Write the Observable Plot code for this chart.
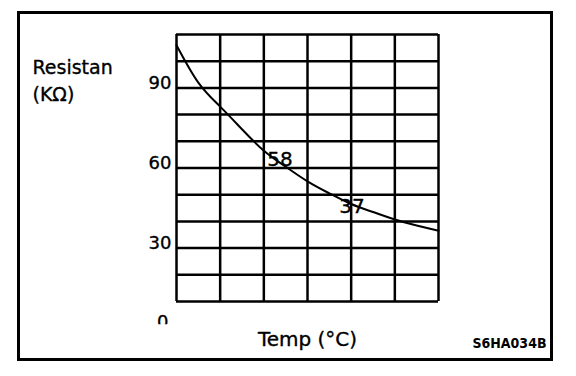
<!DOCTYPE html>
<html>
<head>
<meta charset="utf-8">
<script src="https://cdn.jsdelivr.net/npm/d3@7"></script>
<script src="https://cdn.jsdelivr.net/npm/@observablehq/plot@0.6"></script>
<style>
  html, body { margin: 0; padding: 0; background: #fff; }
  #wrap { position: relative; width: 576px; height: 376px; overflow: hidden; }
  #border { position: absolute; left: 17px; top: 11px; width: 530px; height: 344px; border: 3px solid #000; pointer-events: none; }
</style>
</head>
<body>
<div id="wrap"><div id="border"></div></div>
<script>
// ---- data ----
const tempColumns = [0, 1, 2, 3, 4, 5, 6];                 // vertical grid lines (temperature columns)
const resistanceGrid = [10, 20, 30, 40, 50, 60, 70, 80, 90, 100, 110]; // horizontal grid lines (kΩ)
const yTickLabels = [30, 60, 90];
const cutTickLabels = [0];                                  // partly hidden in the original
const curveTemp = [0, 0.5, 1, 1.5, 2, 2.5, 3, 3.5, 4, 4.5, 5, 5.5, 6];
const curveResistance = [106, 92, 83, 74.5, 66.5, 60.5, 55, 50.5, 46.5, 43.5, 40.7, 38.5, 36.5];
const pointLabels = ["58", "37"];
const pointLabelTemp = [2.37, 4.02];
const pointLabelResistance = [63, 45.5];
const yTitle = "Resistan\n(KΩ)";
const xTitle = "Temp (°C)";
const figureCode = "S6HA034B";

const curve = curveTemp.map((t, i) => ({t, r: curveResistance[i]}));
const labels = pointLabels.map((s, i) => ({s, t: pointLabelTemp[i], r: pointLabelResistance[i]}));

const font = "DejaVu Sans, Liberation Sans, sans-serif";
const ink = {fill: "#000", stroke: "#000", strokeWidth: 0.35};

const chart = Plot.plot({
  width: 576,
  height: 376,
  marginLeft: 176,
  marginRight: 138,
  marginTop: 34,
  marginBottom: 75,
  style: {fontFamily: font, background: "transparent", overflow: "visible", color: "#000"},
  x: {domain: [0, 6], axis: null},
  y: {domain: [10, 110], axis: null},
  marks: [
    Plot.ruleX(tempColumns, {x: d => d, stroke: "#000", strokeWidth: 2.5}),
    Plot.ruleY(resistanceGrid, {y: d => d, stroke: "#000", strokeWidth: 2.5}),
    Plot.line(curve, {x: "t", y: "r", curve: "natural", stroke: "#000", strokeWidth: 2}),
    Plot.text(yTickLabels, {y: d => d, text: d => String(d), frameAnchor: "left", textAnchor: "end", dx: -5, dy: -5, fontSize: 18, ...ink}),
    Plot.text(cutTickLabels, {y: d => d, text: d => String(d), frameAnchor: "left", textAnchor: "end", dx: -8, dy: -6, fontSize: 18, ...ink, className: "cut-tick"}),
    Plot.text(labels, {x: "t", y: "r", text: "s", fontSize: 20, ...ink}),
    Plot.text([yTitle], {frameAnchor: "top-left", textAnchor: "start", lineAnchor: "top", dx: -144, dy: 20, fontSize: 19, lineHeight: 1.42, ...ink}),
    Plot.text([xTitle], {frameAnchor: "bottom", dy: 44, fontSize: 20, ...ink}),
    Plot.text([figureCode], {frameAnchor: "bottom-right", textAnchor: "end", dx: 108, dy: 46, fontSize: 14, fontWeight: "bold", fontFamily: "DejaVu Sans Condensed, DejaVu Sans, sans-serif", letterSpacing: "-0.5px", fill: "#000"})
  ]
});

// the "0" label is cut off in the original: only its top arc shows
const y = chart.scale("y");
const svg = d3.select(chart);
const cutY = y.apply(0) - 5;
svg.append("defs").append("clipPath").attr("id", "cut0").attr("clipPathUnits", "userSpaceOnUse")
  .append("rect").attr("x", -1000).attr("y", -1000).attr("width", 3000).attr("height", 1000 + cutY + 7);
svg.selectAll(".cut-tick").attr("clip-path", "url(#cut0)");

document.getElementById("wrap").prepend(chart);
</script>
</body>
</html>
